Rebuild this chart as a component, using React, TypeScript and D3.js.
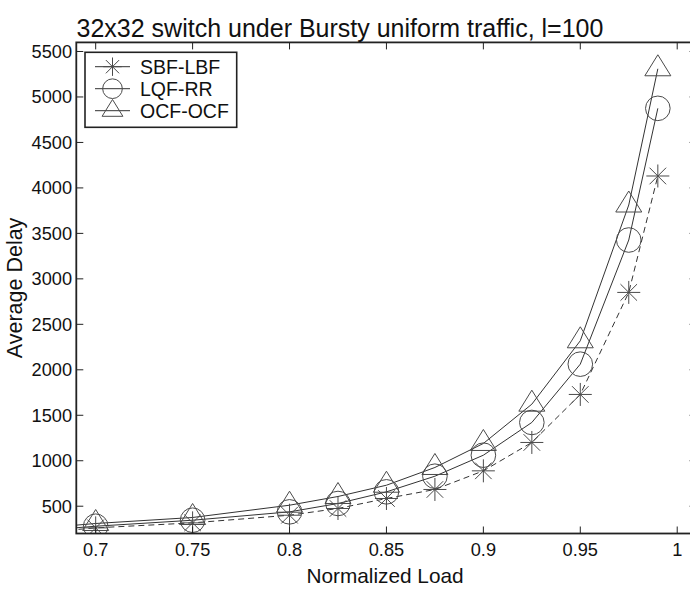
import React from "react";
import * as d3 from "d3";

const loads = [0.65, 0.7, 0.75, 0.8, 0.825, 0.85, 0.875, 0.9, 0.925, 0.95, 0.975, 0.99];
const sbfLbf = [170, 262, 317, 401, 475, 585, 684, 889, 1201, 1729, 2851, 4131];
const lqfRr = [195, 280, 346, 438, 530, 658, 830, 1061, 1421, 2062, 3427, 4875];
const ocfOcf = [220, 310, 376, 511, 607, 731, 926, 1190, 1622, 2319, 3812, 5310];

const seriesNames = ["SBF-LBF", "LQF-RR", "OCF-OCF"];
const xTicks = [0.7, 0.75, 0.8, 0.85, 0.9, 0.95, 1];
const xTickLabels = ["0.7", "0.75", "0.8", "0.85", "0.9", "0.95", "1"];
const yTicks = [500, 1000, 1500, 2000, 2500, 3000, 3500, 4000, 4500, 5000, 5500];

const W = 690;
const H = 589;
const L = 76.3;
const R = 696.6;
const T = 42.4;
const B = 533.5;
const FONT = "'Liberation Sans', Arial, Helvetica, sans-serif";
const LINE = "#333";
const MARK = "#4a4a4a";

function markerPath(kind: string, s: number) {
  if (kind === "star") {
    const r = 11.5 * s;
    const d = r * 0.72;
    return `M0,${-r}V${r}M${-r},0H${r}M${-d},${-d}L${d},${d}M${-d},${d}L${d},${-d}`;
  }
  if (kind === "circle") {
    const r = 12.3 * s;
    return `M${-r},0A${r},${r} 0 1,0 ${r},0A${r},${r} 0 1,0 ${-r},0Z`;
  }
  const hw = 13 * s;
  const up = 14 * s;
  const dn = 7 * s;
  return `M0,${-up}L${hw},${dn}L${-hw},${dn}Z`;
}

export default function App() {
  const x = d3.scaleLinear().domain([0.69, 1.01]).range([L, R]);
  const y = d3.scaleLinear().domain([200, 5600]).range([B, T]);
  const series = [
    { name: seriesNames[0], values: sbfLbf, kind: "star", dash: "6,4" },
    { name: seriesNames[1], values: lqfRr, kind: "circle", dash: null },
    { name: seriesNames[2], values: ocfOcf, kind: "triangle", dash: null },
  ];
  const line = d3
    .line<number>()
    .x((_, i) => x(loads[i]))
    .y((v) => y(v));
  const tick = 7;

  return (
    <svg
      width={W}
      height={H}
      style={{ position: "absolute", left: 0, top: 0, display: "block", background: "#fff" }}
      fontFamily={FONT}
    >
      <defs>
        <clipPath id="plotclip">
          <rect x={L} y={T} width={R - L} height={B - T} />
        </clipPath>
      </defs>
      <rect x={0} y={0} width={W} height={H} fill="#fff" />

      <g clipPath="url(#plotclip)">
        {series.map((s) => (
          <path
            key={s.name + "-line"}
            d={line(s.values) || ""}
            fill="none"
            stroke={LINE}
            strokeWidth={1}
            strokeDasharray={s.dash || undefined}
          />
        ))}
        {series.map((s) =>
          s.values.map((v, i) => (
            <path
              key={s.name + i}
              transform={`translate(${x(loads[i])},${y(v)})`}
              d={markerPath(s.kind, 1)}
              fill="none"
              stroke={MARK}
              strokeWidth={1}
            />
          ))
        )}
      </g>

      {/* axes box */}
      <rect x={L} y={T} width={R - L} height={B - T} fill="none" stroke="#222" strokeWidth={1.8} />

      {xTicks.map((t, i) => (
        <g key={"xt" + i}>
          <line x1={x(t)} x2={x(t)} y1={B} y2={B - tick} stroke="#222" strokeWidth={1} />
          <line x1={x(t)} x2={x(t)} y1={T} y2={T + tick} stroke="#222" strokeWidth={1} />
          <text x={x(t)} y={555.5} textAnchor="middle" fontSize={18.2} fill="#111">
            {xTickLabels[i]}
          </text>
        </g>
      ))}
      {yTicks.map((t, i) => (
        <g key={"yt" + i}>
          <line x1={L} x2={L + tick} y1={y(t)} y2={y(t)} stroke="#222" strokeWidth={1} />
          <line x1={R} x2={R - tick} y1={y(t)} y2={y(t)} stroke="#222" strokeWidth={1} />
          <text x={72} y={y(t)} dy="0.35em" textAnchor="end" fontSize={18.2} fill="#111">
            {String(t)}
          </text>
        </g>
      ))}

      <text x={340} y={36.5} textAnchor="middle" fontSize={25} fill="#111">
        32x32 switch under Bursty uniform traffic, l=100
      </text>
      <text x={385} y={583} textAnchor="middle" fontSize={20.8} fill="#111">
        Normalized Load
      </text>
      <text
        transform={`translate(22,${(T + B) / 2}) rotate(-90)`}
        textAnchor="middle"
        fontSize={21.5}
        fill="#111"
      >
        Average Delay
      </text>

      {/* legend */}
      <g>
        <rect x={85} y={52.3} width={151.7} height={75} fill="#fff" stroke="#222" strokeWidth={1.6} />
        {series.map((s, i) => {
          const cy = 66.7 + i * 22;
          return (
            <g key={"lg" + i}>
              <line x1={95} x2={130} y1={cy} y2={cy} stroke={LINE} strokeWidth={1} />
              <path
                transform={`translate(112.5,${cy})`}
                d={markerPath(s.kind, 0.8)}
                fill="none"
                stroke={MARK}
                strokeWidth={1}
              />
              <text x={140} y={cy} dy="0.36em" fontSize={19.5} fill="#111">
                {s.name}
              </text>
            </g>
          );
        })}
      </g>
    </svg>
  );
}
